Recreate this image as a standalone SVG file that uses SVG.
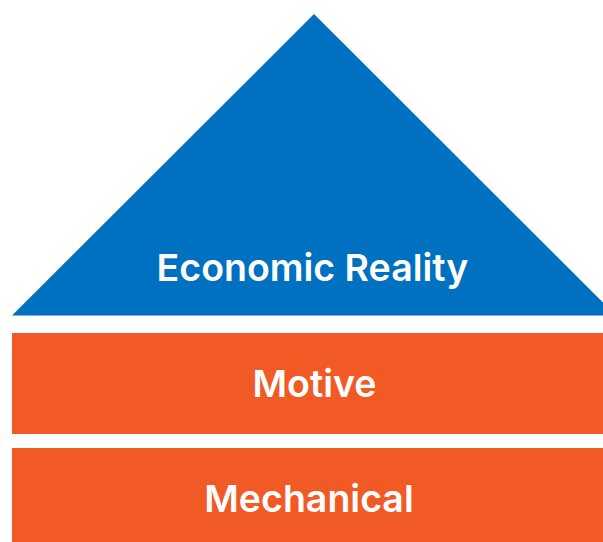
<svg xmlns="http://www.w3.org/2000/svg" width="603" height="542" viewBox="0 0 603 542">
<style>
.lbl{font-family:Inter,"Noto Sans",sans-serif;font-weight:600;font-size:37.5px;fill:#ffffff;text-anchor:middle}
.bar{fill:#F15A24}
</style>
<rect width="603" height="542" fill="#ffffff"/>
<g id="economic-reality">
<polygon points="314,14 12,315.5 616,315.5" fill="#0070C0"/>
<text class="lbl" x="312.5" y="281">Economic Reality</text>
</g>
<g id="motive">
<rect class="bar" x="12" y="333" width="591" height="101"/>
<text class="lbl" x="314.5" y="397">Motive</text>
</g>
<g id="mechanical">
<rect class="bar" x="12" y="448" width="591" height="94"/>
<text class="lbl" x="309" y="512">Mechanical</text>
</g>
<g id="connectors"/>
</svg>
